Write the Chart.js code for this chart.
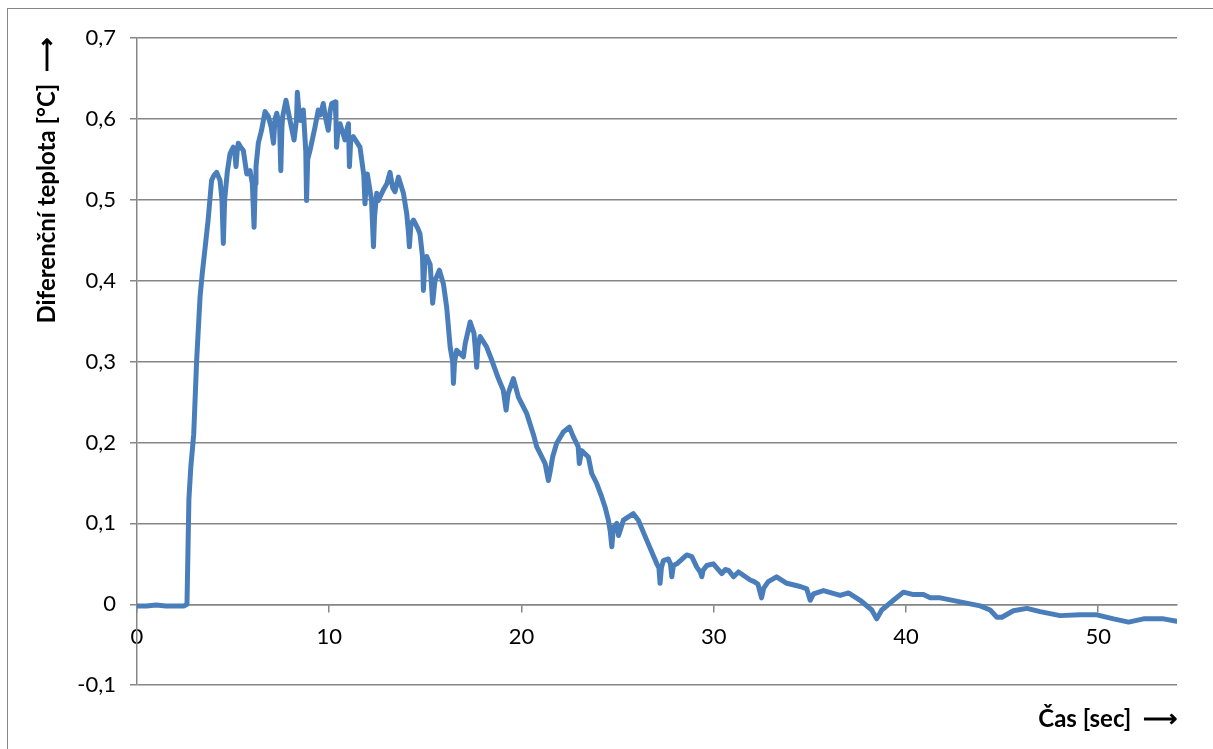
<!DOCTYPE html>
<html>
<head>
<meta charset="utf-8">
<script src="https://cdn.jsdelivr.net/npm/chart.js@4/dist/chart.umd.min.js"></script>
<style>
  body { margin: 0; background: #fff; }
  #wrap { position: relative; width: 1213px; height: 749px; overflow: hidden; }
  #frame { position: absolute; left: 7px; top: 8px; width: 1300px; height: 900px; border: 1px solid #868686; pointer-events: none; }
</style>
</head>
<body>
<div id="wrap">
  <canvas id="chart" width="1213" height="749"></canvas>
  <div id="frame"></div>
</div>
<script>
// time [s] (10 per line, matches diffTemp line by line)
const timeSec = [
  0, 0.5, 1.0, 1.5, 2.0, 2.45, 2.6, 2.7, 2.8, 2.95,
  3.1, 3.28, 3.4, 3.54, 3.7, 3.88, 4.0, 4.14, 4.32, 4.42,
  4.49, 4.56, 4.7, 4.84, 5.01, 5.1, 5.15, 5.22, 5.27, 5.4,
  5.53, 5.71, 5.88, 6.0, 6.09, 6.15, 6.19, 6.31, 6.48, 6.66,
  6.83, 6.98, 7.10, 7.18, 7.27, 7.42, 7.48, 7.54, 7.58, 7.75,
  7.96, 8.17, 8.3, 8.34, 8.42, 8.51, 8.65, 8.78, 8.82, 8.88,
  9.0, 9.26, 9.43, 9.55, 9.69, 9.82, 9.95, 10.05, 10.13, 10.3,
  10.35, 10.38, 10.45, 10.56, 10.82, 10.95, 11.0, 11.05, 11.12, 11.25,
  11.6, 11.8, 11.86, 11.92, 11.98, 12.2, 12.3, 12.36, 12.47, 12.55,
  12.81, 13.0, 13.16, 13.3, 13.42, 13.6, 13.86, 14.03, 14.12, 14.17,
  14.25, 14.38, 14.6, 14.72, 14.85, 14.9, 14.97, 15.07, 15.25, 15.38,
  15.5, 15.73, 15.94, 16.11, 16.29, 16.42, 16.46, 16.52, 16.63, 16.98,
  17.07, 17.33, 17.53, 17.62, 17.67, 17.74, 17.85, 18.19, 18.45, 18.8,
  19.05, 19.2, 19.3, 19.58, 19.84, 20.27, 20.62, 20.79, 21.0, 21.23,
  21.4, 21.5, 21.62, 21.83, 22.18, 22.49, 22.7, 22.95, 23.01, 23.13,
  23.48, 23.65, 23.92, 24.17, 24.35, 24.52, 24.62, 24.7, 24.78, 24.96,
  25.05, 25.13, 25.3, 25.82, 26.08, 26.52, 27.04, 27.15, 27.21, 27.28,
  27.38, 27.64, 27.75, 27.82, 27.9, 28.08, 28.6, 28.86, 29.12, 29.3,
  29.38, 29.45, 29.64, 29.98, 30.42, 30.6, 30.77, 31.03, 31.29, 31.9,
  32.1, 32.3, 32.49, 32.6, 32.84, 33.27, 33.8, 34.5, 34.84, 35.02,
  35.19, 35.71, 36.58, 37.01, 37.62, 38.22, 38.48, 38.74, 39.35, 39.87,
  40.39, 40.91, 41.26, 41.78, 42.82, 43.86, 44.38, 44.73, 44.99, 45.59,
  46.29, 46.98, 48.02, 49.06, 49.93, 50.8, 51.58, 52.36, 53.4, 54.08
];

// differential temperature [°C]
const diffTemp = [
  -0.002, -0.002, -0.001, -0.002, -0.002, -0.002, 0.0, 0.13, 0.17, 0.21,
  0.30, 0.38, 0.41, 0.44, 0.475, 0.524, 0.53, 0.534, 0.524, 0.50,
  0.446, 0.50, 0.535, 0.557, 0.565, 0.555, 0.541, 0.562, 0.570, 0.565,
  0.561, 0.532, 0.536, 0.52, 0.466, 0.52, 0.541, 0.570, 0.586, 0.609,
  0.603, 0.59, 0.570, 0.60, 0.607, 0.59, 0.536, 0.59, 0.603, 0.623,
  0.598, 0.574, 0.60, 0.633, 0.61, 0.598, 0.611, 0.56, 0.499, 0.55,
  0.561, 0.590, 0.611, 0.605, 0.619, 0.60, 0.586, 0.61, 0.619, 0.621,
  0.60, 0.565, 0.585, 0.594, 0.574, 0.59, 0.594, 0.541, 0.575, 0.578,
  0.565, 0.53, 0.495, 0.52, 0.532, 0.50, 0.442, 0.48, 0.508, 0.499,
  0.512, 0.52, 0.534, 0.515, 0.510, 0.528, 0.508, 0.483, 0.46, 0.442,
  0.47, 0.475, 0.465, 0.458, 0.43, 0.388, 0.42, 0.43, 0.42, 0.372,
  0.40, 0.413, 0.396, 0.367, 0.318, 0.30, 0.273, 0.30, 0.314, 0.306,
  0.322, 0.349, 0.335, 0.31, 0.293, 0.32, 0.331, 0.318, 0.302, 0.279,
  0.265, 0.24, 0.26, 0.279, 0.256, 0.236, 0.21, 0.195, 0.185, 0.174,
  0.153, 0.165, 0.182, 0.199, 0.213, 0.219, 0.207, 0.195, 0.174, 0.19,
  0.182, 0.162, 0.149, 0.133, 0.12, 0.104, 0.09, 0.071, 0.095, 0.10,
  0.085, 0.091, 0.104, 0.112, 0.104, 0.079, 0.05, 0.045, 0.026, 0.045,
  0.054, 0.056, 0.05, 0.034, 0.048, 0.05, 0.061, 0.059, 0.046, 0.04,
  0.034, 0.042, 0.048, 0.05, 0.038, 0.043, 0.042, 0.034, 0.04, 0.03,
  0.028, 0.025, 0.008, 0.02, 0.028, 0.034, 0.026, 0.022, 0.019, 0.005,
  0.013, 0.017, 0.011, 0.014, 0.005, -0.007, -0.018, -0.007, 0.005, 0.015,
  0.012, 0.012, 0.008, 0.008, 0.003, -0.002, -0.007, -0.016, -0.016, -0.008,
  -0.005, -0.009, -0.014, -0.013, -0.013, -0.018, -0.022, -0.018, -0.018, -0.021
];

const xTicks = [0, 10, 20, 30, 40, 50];
const xTitle = 'Čas [sec]  ⟶';
const yTitle = 'Diferenční teplota [°C]  ⟶';

const gridGray = '#868686';
const tickFont = { family: 'Lato', size: 22 };
const titleFont = { family: 'Lato', size: 24, weight: 'bold' };

const points = timeSec.map((t, i) => ({ x: t, y: diffTemp[i] }));

const ctx = document.getElementById('chart').getContext('2d');
new Chart(ctx, {
  type: 'scatter',
  data: {
    datasets: [{
      data: points,
      showLine: true,
      borderColor: '#4a7ebb',
      borderWidth: 5,
      pointRadius: 0,
      tension: 0,
      borderJoinStyle: 'round',
      borderCapStyle: 'round'
    }]
  },
  options: {
    responsive: false,
    animation: false,
    layout: { padding: { left: 0, right: 36, top: 38, bottom: 15 } },
    plugins: {
      legend: { display: false },
      tooltip: { enabled: false },
      title: {
        display: true,
        text: xTitle,
        position: 'bottom',
        align: 'end',
        color: '#000',
        font: titleFont,
        padding: { top: 20, bottom: 0 }
      }
    },
    scales: {
      x: {
        type: 'linear',
        min: 0,
        max: 54.1,
        position: { y: 0 },
        afterBuildTicks: (s) => { s.ticks = xTicks.map(v => ({ value: v })); },
        ticks: { color: '#000', font: tickFont, padding: 12, maxRotation: 0 },
        grid: { drawOnChartArea: false, drawTicks: true, tickLength: 7, color: gridGray, lineWidth: 1.5 },
        border: { color: gridGray, width: 1.5 }
      },
      y: {
        min: -0.1,
        max: 0.7,
        afterFit: (s) => { s.width = 137; },
        ticks: {
          stepSize: 0.1,
          color: '#000',
          font: tickFont,
          padding: 14,
          callback: (v) => Math.abs(v) < 1e-9 ? '0' : v.toFixed(1).replace('.', ',')
        },
        grid: { color: gridGray, lineWidth: 1.5, tickLength: 7 },
        border: { color: gridGray, width: 1.5 },
        title: {
          display: true,
          text: yTitle,
          align: 'end',
          color: '#000',
          font: titleFont,
          padding: { top: 33, bottom: 0 }
        }
      }
    }
  }
});
</script>
</body>
</html>
